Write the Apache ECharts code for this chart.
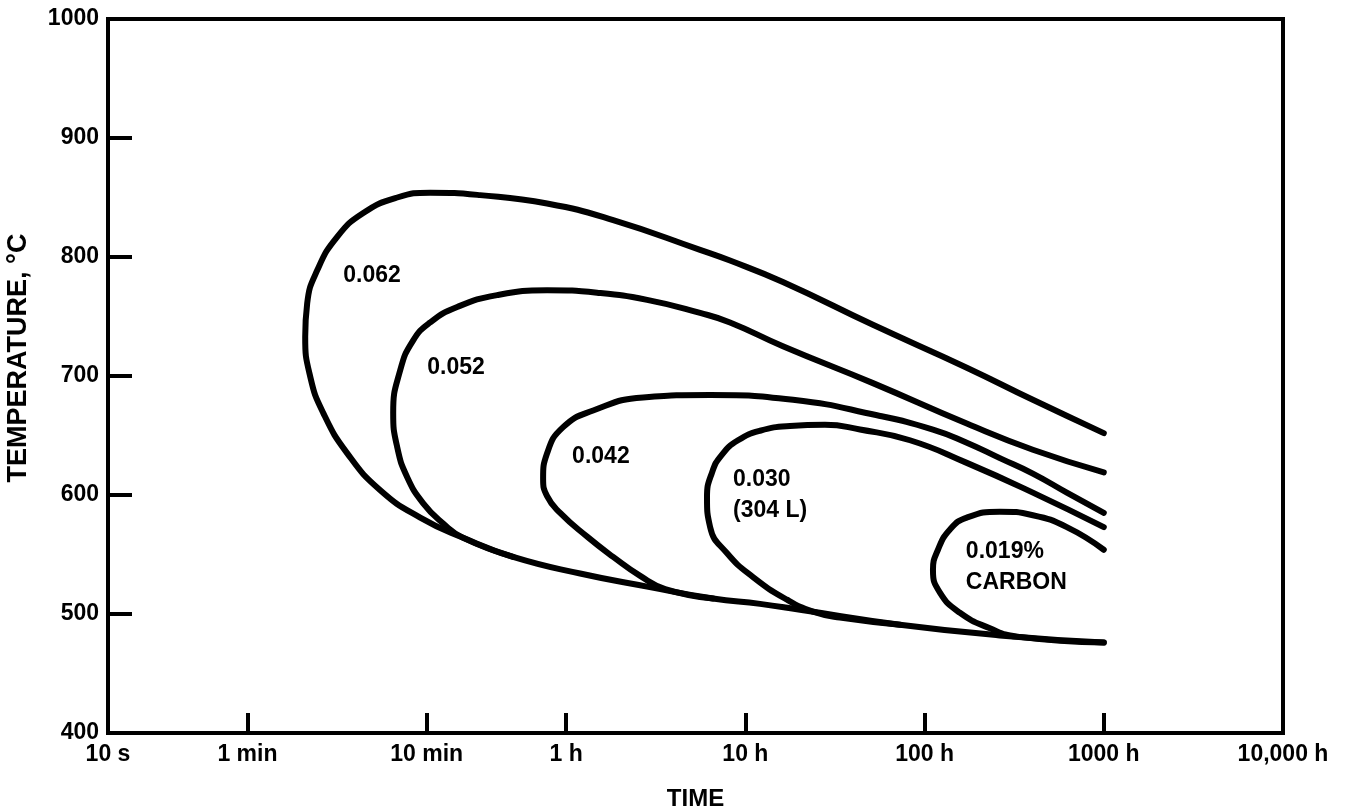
<!DOCTYPE html>
<html>
<head>
<meta charset="utf-8">
<script src="https://cdn.jsdelivr.net/npm/echarts@6/dist/echarts.min.js"></script>
<style>
html,body{margin:0;padding:0;background:#fff;}
#chart{width:1351px;height:806px;}
</style>
</head>
<body>
<div id="chart"></div>
<script>
// ---- Data (time in hours, temperature in °C) ----
const timeTickHours = [10/3600, 1/60, 1/6, 1, 10, 100, 1000, 10000];
const timeTickLabels = ['10 s', '1 min', '10 min', '1 h', '10 h', '100 h', '1000 h', '10,000 h'];
const innerTickHours = [1/60, 1/6, 1, 10, 100, 1000];
const tempTicks = [400, 500, 600, 700, 800, 900, 1000];

const c062Time = [1000, 402, 172, 51.5, 16.2, 8.21, 5.59, 1.83, 0.783, 0.331, 0.1744, 0.1142, 0.0738, 0.0528, 0.0409, 0.0359, 0.0350, 0.0374, 0.0441, 0.0601, 0.0918, 0.1534, 0.2665, 0.506, 1.197, 2.83, 6.60, 12.08, 20.2, 72.9, 263, 1000];
const c062Temp = [652, 680, 707, 743, 779, 797, 806, 831, 845, 852, 854, 850, 837, 817, 789, 761, 733, 699, 669, 635, 604, 581, 564, 548, 534, 523, 513, 508.5, 503.5, 491, 482, 476];

const c052Time = [1000, 402, 172, 51.5, 16.2, 8.21, 5.59, 2.83, 1.489, 0.783, 0.412, 0.2466, 0.1744, 0.1402, 0.1187, 0.1084, 0.1142, 0.1298, 0.1594, 0.2061, 0.2665, 0.506];
const c052Temp = [619, 638, 660, 694, 725, 745, 753, 764, 770, 772, 768, 758, 745, 730, 705, 669, 640, 615, 593, 576, 564, 548];

const c042Time = [1000, 622, 402, 263, 172, 111.4, 54.3, 18.45, 6.36, 2.69, 1.415, 0.962, 0.783, 0.744, 0.783, 0.926, 1.31, 1.83, 2.59, 3.57, 6.60];
const c042Temp = [585, 602, 618, 631, 644, 655, 667, 680, 684, 682, 671, 657, 635, 614, 599, 585, 565, 548, 532, 521, 513];

const c030Time = [1000, 402, 172, 82.9, 43.6, 27.8, 17.75, 12.08, 9.10, 7.41, 6.52, 6.11, 6.36, 7.91, 11.04, 17.08, 23.85, 33.7, 72.9];
const c030Temp = [573, 602, 627, 646, 655, 659, 658, 654, 646, 634, 619, 598, 573, 551, 531, 512, 502, 497, 491];

const c019Time = [1000, 622, 402, 263, 172, 138.6, 118.8, 111.4, 121.8, 157.5, 231.6, 327.5, 1000];
const c019Temp = [554, 573, 583, 586, 581, 571, 554, 537, 518, 501, 488, 481, 476];

const labelText = ['0.062', '0.052', '0.042', '0.030\n(304 L)', '0.019%\nCARBON'];
const labelTime = [0.0571, 0.1678, 1.08, 8.54, 170];
const labelTemp = [784, 707, 632, 600, 539];

// ---- Build ----
function zip(t, v) { return t.map((x, i) => [x, v[i]]); }
const curves = [
  ['0.062', c062Time, c062Temp],
  ['0.052', c052Time, c052Temp],
  ['0.042', c042Time, c042Temp],
  ['0.030', c030Time, c030Temp],
  ['0.019', c019Time, c019Temp]
];
const FONT = '"Liberation Sans", Arial, Helvetica, sans-serif';

function tickLabel(v) {
  let best = 0, bd = Infinity;
  for (let i = 0; i < timeTickHours.length; i++) {
    const d = Math.abs(Math.log10(v) - Math.log10(timeTickHours[i]));
    if (d < bd) { bd = d; best = i; }
  }
  return bd < 0.01 ? timeTickLabels[best] : '';
}

const series = curves.map(c => ({
  name: c[0],
  type: 'line',
  data: zip(c[1], c[2]),
  smooth: 0.5,
  showSymbol: false,
  symbol: 'none',
  silent: true,
  lineStyle: { color: '#000', width: 6, cap: 'round', join: 'round' }
}));

series.push({
  type: 'scatter',
  silent: true,
  symbolSize: 0,
  itemStyle: { opacity: 1, color: '#000' },
  data: labelTime.map((t, i) => [t, labelTemp[i], labelText[i]]),
  label: {
    show: true,
    position: 'right',
    distance: 0,
    formatter: p => p.data[2],
    color: '#000',
    opacity: 1,
    textBorderWidth: 0,
    fontFamily: FONT,
    fontWeight: 'bold',
    fontSize: 23,
    lineHeight: 31,
    align: 'left'
  },
  emphasis: { disabled: true }
});

const chart = echarts.init(document.getElementById('chart'), null, { renderer: 'canvas' });
chart.setOption({
  animation: false,
  backgroundColor: '#fff',
  grid: {
    left: 108, right: 68, top: 19, bottom: 73,
    show: true, borderColor: '#000', borderWidth: 4, backgroundColor: 'transparent',
    outerBoundsMode: 'none'
  },
  xAxis: {
    type: 'log',
    logBase: 10,
    min: timeTickHours[0],
    max: timeTickHours[timeTickHours.length - 1],
    name: 'TIME',
    nameLocation: 'middle',
    nameGap: 54,
    nameTextStyle: { color: '#000', fontFamily: FONT, fontWeight: 'bold', fontSize: 24 },
    axisLine: { show: true, lineStyle: { color: '#000', width: 4 } },
    axisTick: { show: true, inside: true, length: 20, lineStyle: { color: '#000', width: 4 }, customValues: innerTickHours },
    axisLabel: {
      show: true, margin: 10, color: '#000', fontFamily: FONT, fontWeight: 'bold', fontSize: 23,
      customValues: timeTickHours, formatter: tickLabel
    },
    splitLine: { show: false },
    minorTick: { show: false }
  },
  yAxis: {
    type: 'value',
    min: tempTicks[0], max: tempTicks[tempTicks.length - 1], interval: 100,
    name: 'TEMPERATURE, °C',
    nameLocation: 'middle',
    nameRotate: 90,
    nameGap: 76,
    nameTextStyle: { color: '#000', fontFamily: FONT, fontWeight: 'bold', fontSize: 27, padding: [0, 0, 0, 36] },
    axisLine: { show: true, lineStyle: { color: '#000', width: 4 } },
    axisTick: { show: true, inside: true, length: 24, lineStyle: { color: '#000', width: 4 } },
    axisLabel: { margin: 9, color: '#000', fontFamily: FONT, fontWeight: 'bold', fontSize: 23, formatter: v => String(v) },
    splitLine: { show: false }
  },
  series: series
});
</script>
</body>
</html>
